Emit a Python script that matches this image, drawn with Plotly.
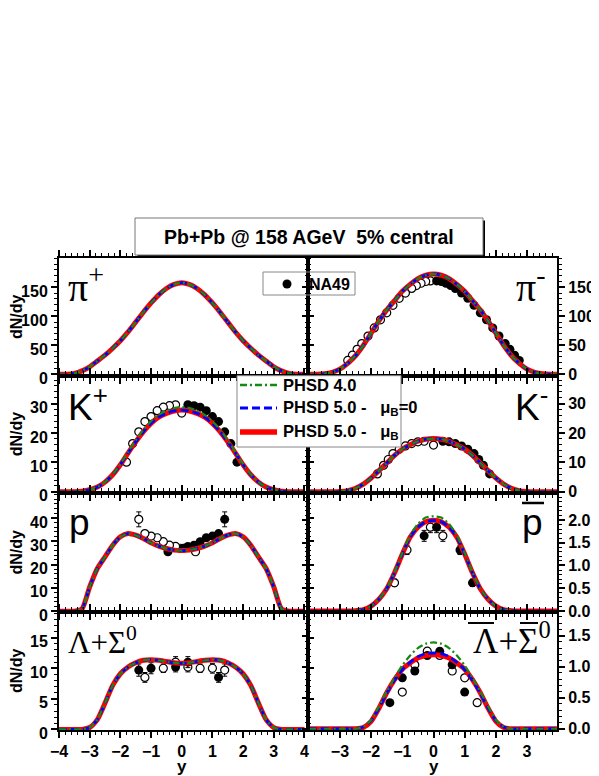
import plotly.graph_objects as go

# rapidity grid of the model curves
RAP = [-4.0, -3.75, -3.5, -3.25, -3.0, -2.75, -2.5, -2.25, -2.0, -1.75, -1.5, -1.25, -1.0, -0.75, -0.5, -0.25,
       0.0, 0.25, 0.5, 0.75, 1.0, 1.25, 1.5, 1.75, 2.0, 2.25, 2.5, 2.75, 3.0, 3.25, 3.5, 3.75, 4.0]

# model curves (PHSD 4.0 / PHSD 5.0 mu_B=0 / PHSD 5.0 mu_B)
PI_PLUS = [0, 0, 1.5, 6, 13, 23, 33, 45, 58, 73, 90, 107, 123, 137, 148, 155, 158,
           155, 148, 137, 123, 107, 90, 73, 58, 45, 33, 23, 13, 6, 1.5, 0, 0]
PI_MINUS = [0, 0, 0.8, 3.5, 9, 19, 32, 50, 71, 92, 111, 127, 143, 155, 165, 171, 173,
            171, 165, 155, 143, 127, 111, 92, 71, 50, 32, 19, 9, 3.5, 0.8, 0, 0]
KP_PHSD5 = [0, 0, 0, 0.2, 0.7, 1.6, 3.3, 5.8, 9.2, 13.2, 17.0, 20.5, 23.3, 25.4, 26.7, 27.5, 27.8,
            27.5, 26.7, 25.4, 23.3, 20.5, 17.0, 13.2, 9.2, 5.8, 3.3, 1.6, 0.7, 0.2, 0, 0, 0]
KP_PHSD4 = [0, 0, 0, 0.2, 0.7, 1.6, 3.3, 5.9, 9.4, 13.5, 17.5, 21.1, 24.0, 26.2, 27.6, 28.5, 28.8,
            28.5, 27.6, 26.2, 24.0, 21.1, 17.5, 13.5, 9.4, 5.9, 3.3, 1.6, 0.7, 0.2, 0, 0, 0]
KM = [0, 0, 0, 0, 0.1, 0.4, 1.2, 2.6, 4.7, 7.2, 9.8, 12.4, 14.5, 16.0, 17.2, 17.9, 18.1,
      17.9, 17.2, 16.0, 14.5, 12.4, 9.8, 7.2, 4.7, 2.6, 1.2, 0.4, 0.1, 0, 0, 0, 0]
PROT = [0, 0, 0, 1.0, 10.4, 18.3, 23.3, 28.3, 31.9, 33.3, 32.6, 31.2, 29.3, 27.9, 26.9, 26.2, 26.0,
        26.2, 26.9, 27.9, 29.3, 31.2, 32.6, 33.3, 31.9, 28.3, 23.3, 18.3, 10.4, 1.0, 0, 0, 0]
PBAR_PHSD5 = [0, 0, 0, 0, 0, 0, 0.01, 0.03, 0.11, 0.26, 0.49, 0.84, 1.25, 1.62, 1.84, 1.96, 1.99,
              1.96, 1.84, 1.62, 1.25, 0.84, 0.49, 0.26, 0.11, 0.03, 0.01, 0, 0, 0, 0, 0, 0]
PBAR_PHSD4 = [0, 0, 0, 0, 0, 0, 0.01, 0.03, 0.11, 0.26, 0.49, 0.85, 1.27, 1.66, 1.91, 2.05, 2.08,
              2.05, 1.91, 1.66, 1.27, 0.85, 0.49, 0.26, 0.11, 0.03, 0.01, 0, 0, 0, 0, 0, 0]
LAM = [0, 0, 0, 0, 0.3, 1.6, 4.3, 7.2, 9.1, 10.2, 10.9, 11.3, 11.4, 11.3, 11.1, 10.9, 10.8,
       10.9, 11.1, 11.3, 11.4, 11.3, 10.9, 10.2, 9.1, 7.2, 4.3, 1.6, 0.3, 0, 0, 0, 0]
ALAM_MUB = [0, 0, 0, 0, 0, 0, 0, 0.02, 0.12, 0.33, 0.58, 0.79, 0.96, 1.06, 1.14, 1.18, 1.19,
            1.18, 1.14, 1.06, 0.96, 0.79, 0.58, 0.33, 0.12, 0.02, 0, 0, 0, 0, 0, 0, 0]
ALAM_MU0 = [0, 0, 0, 0, 0, 0, 0, 0.03, 0.13, 0.33, 0.57, 0.78, 0.95, 1.07, 1.16, 1.21, 1.22,
            1.21, 1.16, 1.07, 0.95, 0.78, 0.57, 0.33, 0.13, 0.03, 0, 0, 0, 0, 0, 0, 0]
ALAM_PHSD4 = [0, 0, 0, 0, 0, 0, 0, 0.03, 0.14, 0.36, 0.60, 0.82, 1.02, 1.18, 1.30, 1.37, 1.39,
              1.37, 1.30, 1.18, 1.02, 0.82, 0.60, 0.36, 0.14, 0.03, 0, 0, 0, 0, 0, 0, 0]

# NA49 data: filled = measured, open = reflected
PIM_Y = [0.1, 0.25, 0.4, 0.55, 0.7, 0.9, 1.1, 1.3, 1.5, 1.7, 1.9, 2.1, 2.3, 2.45, 2.6, 2.75]
PIM_V = [161, 160, 157, 153, 148, 140, 131, 119, 106, 94, 80, 66, 53, 43, 33, 24]
PIM_YO = [-0.1, -0.25, -0.4, -0.55, -0.7, -0.9, -1.1, -1.3, -1.5, -1.7, -1.9, -2.1, -2.3, -2.45, -2.6, -2.75]
KP_Y = [0.2, 0.4, 0.6, 0.8, 1.0, 1.2, 1.4, 1.6, 1.8]
KP_V = [29.6, 29.3, 28.8, 27.6, 25.6, 23.9, 20.4, 16.4, 10.1]
KP_YO = [0.0, -0.2, -0.4, -0.6, -0.8, -1.0, -1.2, -1.4, -1.6, -1.8]
KP_VO = [26.8, 29.6, 29.3, 28.8, 27.6, 25.6, 23.9, 20.4, 16.4, 10.1]
KM_Y = [0.3, 0.5, 0.7, 0.9, 1.1, 1.3, 1.45, 1.6, 1.8]
KM_V = [17.2, 17.0, 16.4, 15.6, 14.5, 13.0, 11.0, 9.0, 6.1]
KM_YO = [0.0, -0.3, -0.5, -0.7, -0.9, -1.1, -1.3, -1.45, -1.6, -1.8]
KM_VO = [15.9, 17.2, 17.0, 16.4, 15.6, 14.5, 13.0, 11.0, 9.0, 6.1]
P_Y = [-0.45, 0.05, 0.2, 0.4, 0.6, 0.8, 1.0, 1.2, 1.4]
P_V = [25.5, 27.0, 27.8, 28.3, 29.8, 31.5, 32.2, 33.3, 39.4]
P_E = [1.0, 1.0, 1.0, 1.0, 1.0, 1.0, 1.0, 1.2, 3.2]
P_YO = [0.45, -0.05, -0.2, -0.4, -0.6, -0.8, -1.0, -1.2, -1.4]
PB_Y = [-0.3, 0.1, 0.85, 1.25]
PB_V = [1.65, 1.84, 1.34, 0.62]
PB_E = [0.12, 0.12, 0.1, 0.08]
PB_YO = [0.3, -0.1, -0.85, -1.25]
L_Y = [-1.4, -1.0, -0.2, 0.2, 1.2]
L_V = [9.7, 10.0, 10.2, 11.0, 8.5]
L_E = [1.0, 0.9, 0.8, 0.9, 0.8]
L_YO = [-1.2, -0.6, -0.2, 0.2, 0.6, 1.0, 1.4]
L_VO = [8.5, 10.0, 11.0, 10.2, 10.0, 10.0, 9.7]
L_EO = [0.8, 0.7, 0.9, 0.8, 0.7, 0.8, 1.0]
AL_Y = [-1.4, -1.0, -0.6, -0.2, 0.2, 0.6, 1.0]
AL_V = [0.42, 0.82, 0.93, 1.18, 1.25, 1.03, 0.59]
AL_YO = [1.4, 1.0, 0.6, 0.2, -0.2, -0.6, -1.0]

RED, BLUE, GREEN = "#ff0000", "#0000ff", "#138a13"
FONT = "Liberation Sans, Arial, sans-serif"
SERIF = "Liberation Serif, Times New Roman, serif"
# the page body has an 8px margin, so the figure is placed at (8, 8)
OFF = 8
W, H = 599 - OFF, 776 - OFF

fig = go.Figure()

def ax(n):
    return ("x" if n == 1 else f"x{n}"), ("y" if n == 1 else f"y{n}")

def add_data(n, xf, yf, xo, yo, ef=None, eo=None):
    xa, ya = ax(n)
    fig.add_trace(go.Scatter(x=xo, y=yo, mode="markers", xaxis=xa, yaxis=ya, showlegend=False,
        marker=dict(symbol="circle", size=8, color="white", line=dict(color="black", width=1.2)),
        error_y=dict(type="data", array=eo, visible=eo is not None, color="black", thickness=1, width=2.5)))
    fig.add_trace(go.Scatter(x=xf, y=yf, mode="markers", xaxis=xa, yaxis=ya, showlegend=False,
        marker=dict(symbol="circle", size=9, color="black", line=dict(color="black", width=0)),
        error_y=dict(type="data", array=ef, visible=ef is not None, color="black", thickness=1, width=2.5)))

def add_model(n, phsd4, mu0, mub):
    xa, ya = ax(n)
    for ys, color, dash, width in [(mub, RED, "solid", 5), (mu0, BLUE, "8px,4px", 2.8),
                                   (phsd4, GREEN, "7px,3px,2px,3px", 2.2)]:
        fig.add_trace(go.Scatter(x=RAP, y=ys, mode="lines", xaxis=xa, yaxis=ya, showlegend=False,
            line=dict(color=color, dash=dash, width=width, shape="spline", smoothing=0.6)))

add_model(1, PI_PLUS, PI_PLUS, PI_PLUS)
add_data(2, PIM_Y, PIM_V, PIM_YO, PIM_V)
add_model(2, PI_MINUS, PI_MINUS, PI_MINUS)
add_data(3, KP_Y, KP_V, KP_YO, KP_VO)
add_model(3, KP_PHSD4, KP_PHSD5, KP_PHSD5)
add_data(4, KM_Y, KM_V, KM_YO, KM_VO)
add_model(4, KM, KM, KM)
add_data(5, P_Y, P_V, P_YO, P_V, P_E, P_E)
add_model(5, PROT, PROT, PROT)
add_data(6, PB_Y, PB_V, PB_YO, PB_V, PB_E, PB_E)
add_model(6, PBAR_PHSD4, PBAR_PHSD5, PBAR_PHSD5)
add_data(7, L_Y, L_V, L_YO, L_VO, L_E, L_EO)
add_model(7, LAM, LAM, LAM)
add_data(8, AL_Y, AL_V, AL_YO, AL_V)
add_model(8, ALAM_PHSD4, ALAM_MU0, ALAM_MUB)

def px(x, y):
    return (x - OFF) / W, 1 - (y - OFF) / H

# pixel layout of the panels (page pixels)
COL_PX = [(59, 306), (310, 557)]
ROW_PX = [(258.3, 375.7), (375.7, 493.0), (493.0, 612.0), (612.0, 730.0)]
X_RANGE = [[-4, 4.05], [-3.96, 3.96]]
X_TICKS = [[-4, -3, -2, -1, 0, 1, 2, 3, 4], [-3, -2, -1, 0, 1, 2, 3]]
Y_SPEC = {  # (range, tickvals, minor dtick, tickformat)
    1: ([-2.4, 200], [0, 50, 100, 150], 10, "d"), 2: ([-2.4, 200], [0, 50, 100, 150], 10, "d"),
    3: ([-0.4, 39.5], [0, 10, 20, 30], 2, "d"), 4: ([-0.4, 39.5], [0, 10, 20, 30], 2, "d"),
    5: ([-0.35, 50.7], [0, 10, 20, 30, 40], 2, "d"), 6: ([-0.02, 2.59], [0, 0.5, 1.0, 1.5, 2.0], 0.1, ".1f"),
    7: ([-0.1, 19.2], [0, 5, 10, 15], 1, "d"), 8: ([-0.02, 1.88], [0, 0.5, 1.0, 1.5], 0.1, ".1f"),
}

tickfont = dict(family=FONT, size=16, color="black", weight="bold")
base = dict(showline=True, linecolor="black", linewidth=2, mirror="allticks", ticks="outside",
            ticklen=6, tickwidth=1.5, tickcolor="black", showgrid=False, zeroline=False,
            automargin=False, tickfont=tickfont, fixedrange=True)

layout_axes = {}
for r in range(4):
    for c in range(2):
        n = r * 2 + c + 1
        xa, ya = ax(n)
        top, bot = ROW_PX[r]
        x0, _ = px(COL_PX[c][0], 0)
        x1, _ = px(COL_PX[c][1], 0)
        _, y0 = px(0, bot)
        _, y1 = px(0, top)
        layout_axes["xaxis" if n == 1 else f"xaxis{n}"] = dict(base, domain=[x0, x1], anchor=ya,
            range=X_RANGE[c], tickmode="array", tickvals=X_TICKS[c], showticklabels=(r == 3),
            minor=dict(ticks="outside", ticklen=3, tickwidth=1, tickcolor="black", dtick=0.2, tick0=0))
        rng, tv, mdt, fmt = Y_SPEC[n]
        layout_axes["yaxis" if n == 1 else f"yaxis{n}"] = dict(base, domain=[y0, y1],
            anchor=xa, range=rng, tickmode="array", tickvals=tv, tickformat=fmt,
            side="left" if c == 0 else "right", ticklabelshift=4 if c == 0 else 0,
            minor=dict(ticks="outside", ticklen=3, tickwidth=1, tickcolor="black", dtick=mdt, tick0=0))

annotations = []
def note(x, y, text, size=16, family=FONT, xanchor="center", yanchor="middle", angle=0, bold=True):
    xp, yp = px(x, y)
    annotations.append(dict(x=xp, y=yp, xref="paper", yref="paper", text=text, showarrow=False,
        xanchor=xanchor, yanchor=yanchor, textangle=angle,
        font=dict(family=family, size=size, color="black", weight="bold" if bold else "normal")))

note(309, 237, "Pb+Pb @ 158 AGeV\u00a0\u00a05% central", size=19.5)
for r in range(4):
    note(16, (ROW_PX[r][0] + ROW_PX[r][1]) / 2, "dN/dy", angle=-90)
note(181.7, 766, "y", size=17)
note(433.5, 766, "y", size=17)
note(329, 284, "NA49", size=16)
note(281, 385, "PHSD 4.0", size=16.5, xanchor="left")
note(281, 408, "PHSD 5.0 -\u00a0\u00a0\u00a0\u03bc<sub>B</sub>=0", size=16.5, xanchor="left")
note(281, 432, "PHSD 5.0 -\u00a0\u00a0\u00a0\u03bc<sub>B</sub>", size=16.5, xanchor="left")
# particle labels
note(66, 285, "\u03c0<sup>+</sup>", size=40, family=SERIF, xanchor="left", bold=False)
note(548, 285, "\u03c0<sup>-</sup>", size=40, family=SERIF, xanchor="right", bold=False)
note(66, 404, "K<sup>+</sup>", size=37, xanchor="left", bold=False)
note(550, 404, "K<sup>-</sup>", size=37, xanchor="right", bold=False)
note(67, 522, "p", size=37, xanchor="left", bold=False)
note(545, 522, "p", size=37, xanchor="right", bold=False)
note(66, 640, "\u039b+\u03a3<sup>0</sup>", size=31, family=SERIF, xanchor="left", bold=False)
note(553, 638, "\u039b+\u03a3<sup>0</sup>", size=35, family=SERIF, xanchor="right", bold=False)

def rect(x0, y0, x1, y1, line="black", fill="rgba(0,0,0,0)", width=1):
    a, b = px(x0, y0)
    c, d = px(x1, y1)
    return dict(type="rect", xref="paper", yref="paper", x0=a, y0=d, x1=c, y1=b,
                line=dict(color=line, width=width), fillcolor=fill, layer="above")

def hline(x0, x1, y, color, width, dash="solid"):
    a, b = px(x0, y)
    c, _ = px(x1, y)
    return dict(type="line", xref="paper", yref="paper", x0=a, y0=b, x1=c, y1=b,
                line=dict(color=color, width=width, dash=dash), layer="above")

shapes = [
    rect(137.5, 220.5, 485, 257, line="black", fill="black", width=0),
    rect(135, 218, 483, 255, line="#777777", fill="white", width=1),
    rect(263, 272, 355, 295, line="#888888", width=1),
    rect(237, 375.7, 401, 447, line="#888888", fill="white", width=1),
    hline(240, 277, 385, GREEN, 2.5, "7px,3px,2px,3px"),
    hline(240, 277, 408, BLUE, 3, "8px,4px"),
    hline(240, 277, 432, RED, 5.5),
    hline(522, 544, 503, "black", 2.5),
    hline(468, 494, 623, "black", 2),
    hline(520, 538, 623, "black", 2),
]
cx, cy = px(287, 284)
shapes.append(dict(type="circle", xref="paper", yref="paper", x0=cx - 4.5 / W, x1=cx + 4.5 / W,
                   y0=cy - 4.5 / H, y1=cy + 4.5 / H, fillcolor="black", line=dict(color="black", width=0),
                   layer="above"))

fig.update_layout(width=W, height=H, margin=dict(l=0, r=0, t=0, b=0), template="none",
                  paper_bgcolor="white", plot_bgcolor="white", showlegend=False,
                  annotations=annotations, shapes=shapes, **layout_axes)
fig.write_html("out.html")
